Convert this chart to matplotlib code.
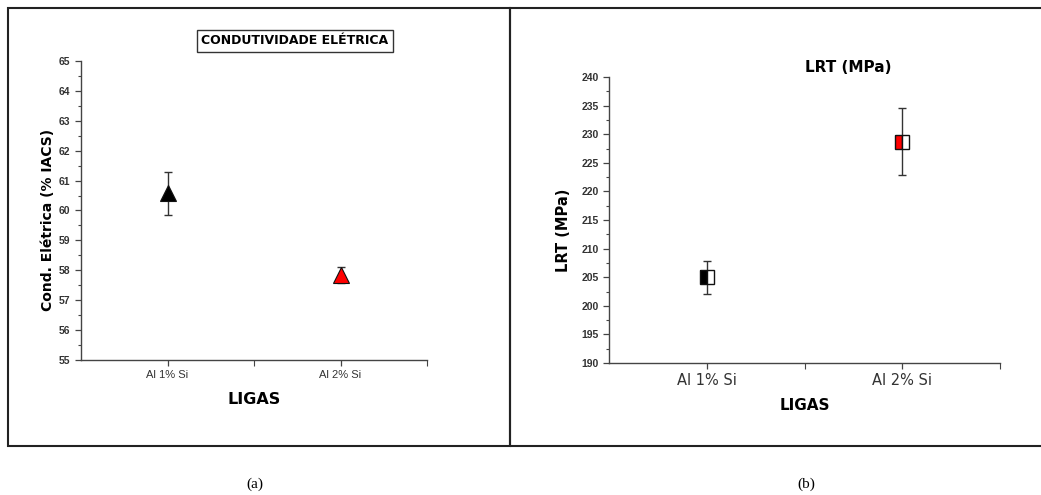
import matplotlib
matplotlib.use('Agg')
import matplotlib.pyplot as plt
from matplotlib.patches import Rectangle
from matplotlib.ticker import MultipleLocator, FixedLocator

# data
ligas = ['Al 1% Si', 'Al 2% Si']
xpos = [1, 2]
cond = [60.58, 57.85]
cond_err = [0.72, 0.27]
cond_colors = ['black', 'red']
lrt = [205.0, 228.7]
lrt_err = [2.9, 5.85]
lrt_colors = ['black', 'red']

W, H = 1041, 495
fig = plt.figure(figsize=(W / 100, H / 100), dpi=100)
fig.patch.set_facecolor('white')

def fx(px):
    return px / W

def fy(py):
    return (H - py) / H

# panel frames
fig.patches.append(Rectangle((fx(8), fy(446)), fx(510) - fx(8), fy(8) - fy(446),
                             transform=fig.transFigure, fill=False, lw=1.5, ec='#222222'))
fig.patches.append(Rectangle((fx(510), fy(446)), fx(1060) - fx(510), fy(8) - fy(446),
                             transform=fig.transFigure, fill=False, lw=1.5, ec='#222222'))

def style_axes(ax):
    for s in ['top', 'right']:
        ax.spines[s].set_visible(False)
    for s in ['left', 'bottom']:
        ax.spines[s].set_color('#444444')
        ax.spines[s].set_linewidth(1.0)
    ax.tick_params(which='major', direction='out', length=4, width=0.9, color='#444444')
    ax.tick_params(which='minor', direction='out', length=2.5, width=0.8, color='#444444')
    ax.tick_params(axis='x', which='minor', length=4)
    ax.set_xlim(0.5, 2.5)
    ax.xaxis.set_minor_locator(FixedLocator([1.5, 2.5]))

# (a) condutividade eletrica
ax1 = fig.add_axes([fx(81), fy(360), fx(427) - fx(81), fy(61) - fy(360)])
style_axes(ax1)
for x, y, e, c in zip(xpos, cond, cond_err, cond_colors):
    ax1.errorbar(x, y, yerr=e, fmt='none', ecolor='#333333', elinewidth=1.0,
                 capsize=3, capthick=1.0, zorder=2)
    ax1.plot(x, y, marker='^', ms=11, mfc=c, mec='#111111', mew=0.8, ls='none', zorder=3)
ax1.set_ylim(55, 65)
ax1.yaxis.set_major_locator(MultipleLocator(1))
ax1.yaxis.set_minor_locator(MultipleLocator(0.5))
ax1.set_xticks(xpos)
ax1.set_xticklabels(ligas, fontsize=8, family='Liberation Sans', color='#333333')
for lab in ax1.get_yticklabels():
    lab.set_fontsize(7.5)
    lab.set_family('Liberation Sans')
    lab.set_fontweight('bold')
    lab.set_color('#333333')
ax1.set_ylabel('Cond. Elétrica (% IACS)', fontsize=10, fontweight='bold', family='DejaVu Sans')
ax1.yaxis.set_label_coords((48 - 81) / 346, (360 - 220) / 299)
ax1.yaxis.label.set_va('center')
ax1.set_xlabel('LIGAS', fontsize=11.5, fontweight='bold', family='DejaVu Sans')
ax1.xaxis.set_label_coords(0.5, (360 - 400) / 299)
ax1.xaxis.label.set_va('center')
fig.text(fx(295), fy(41), 'CONDUTIVIDADE ELÉTRICA', ha='center', va='center',
         fontsize=9, fontweight='bold', family='DejaVu Sans',
         bbox=dict(boxstyle='square,pad=0.35', fc='white', ec='#333333', lw=1.0))

# (b) LRT
ax2 = fig.add_axes([fx(609), fy(363), fx(1000) - fx(609), fy(77) - fy(363)])
style_axes(ax2)
for x, y, e, c in zip(xpos, lrt, lrt_err, lrt_colors):
    ax2.errorbar(x, y, yerr=e, fmt='none', ecolor='#333333', elinewidth=1.0,
                 capsize=3, capthick=1.0, zorder=2)
    ax2.plot(x, y, marker='s', ms=10, mfc=c, mfcalt='white', fillstyle='left',
             mec='#111111', mew=1.0, ls='none', zorder=3)
ax2.set_ylim(190, 240)
ax2.yaxis.set_major_locator(MultipleLocator(5))
ax2.yaxis.set_minor_locator(MultipleLocator(2.5))
ax2.set_xticks(xpos)
ax2.set_xticklabels(ligas, fontsize=10.5, family='DejaVu Sans', color='#333333')
for lab in ax2.get_yticklabels():
    lab.set_fontsize(7.5)
    lab.set_family('Liberation Sans')
    lab.set_fontweight('bold')
    lab.set_color('#333333')
ax2.set_ylabel('LRT (MPa)', fontsize=10.5, fontweight='bold', family='DejaVu Sans')
ax2.yaxis.set_label_coords((563 - 609) / 391, (363 - 230) / 286)
ax2.yaxis.label.set_va('center')
ax2.set_xlabel('LIGAS', fontsize=11, fontweight='bold', family='DejaVu Sans')
ax2.xaxis.set_label_coords(0.5, (363 - 406) / 286)
ax2.xaxis.label.set_va('center')
fig.text(fx(848), fy(67), 'LRT (MPa)', ha='center', va='center',
         fontsize=11, fontweight='bold', family='DejaVu Sans')

# captions
fig.text(fx(255), fy(484), '(a)', ha='center', va='center', fontsize=11, family='Liberation Serif')
fig.text(fx(806), fy(484), '(b)', ha='center', va='center', fontsize=11, family='Liberation Serif')

fig.savefig('out.png', dpi=100, facecolor='white')
